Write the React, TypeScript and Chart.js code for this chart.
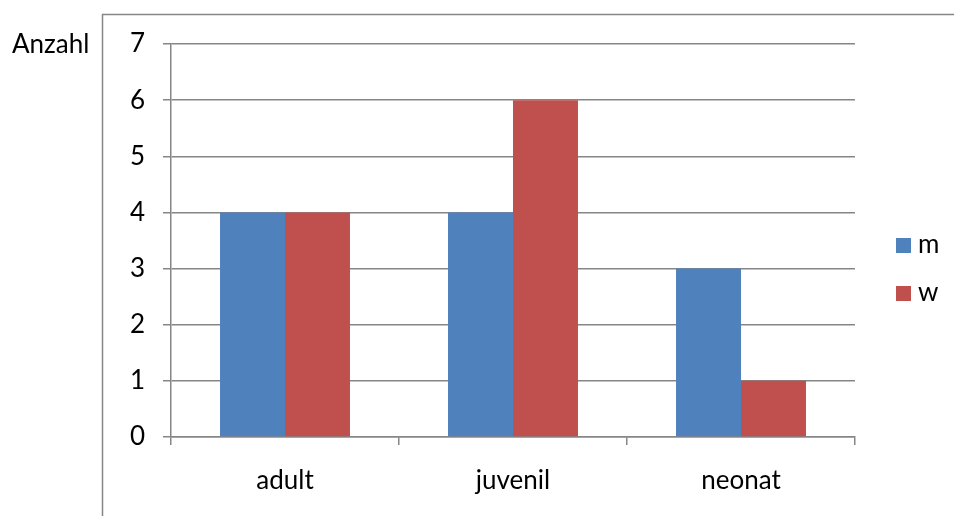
import React, { useEffect, useRef } from "react";
import { Chart, registerables } from "chart.js";

Chart.register(...registerables);

const categories = ["adult", "juvenil", "neonat"];
const seriesNames = ["m", "w"];
const valuesM = [4, 4, 3];
const valuesW = [4, 6, 1];
const yMin = 0;
const yMax = 7;
const yStep = 1;
const yTitle = "Anzahl";

const COLORS = ["#4F81BD", "#C0504D"];
const GRID = "#868686";
const FONT = "Lato";
const FS = 26;

const decor = {
  id: "decor",
  beforeDraw(chart: any) {
    const ctx = chart.ctx;
    ctx.save();
    ctx.fillStyle = "#ffffff";
    ctx.fillRect(0, 0, chart.width, chart.height);
    ctx.strokeStyle = GRID;
    ctx.lineWidth = 1.5;
    ctx.beginPath();
    ctx.moveTo(102.5, chart.height + 5);
    ctx.lineTo(102.5, 14.5);
    ctx.lineTo(chart.width + 5, 14.5);
    ctx.stroke();
    ctx.restore();
  },
  afterDraw(chart: any) {
    const ctx = chart.ctx;
    ctx.save();
    ctx.font = `${FS}px ${FONT}`;
    ctx.fillStyle = "#000000";
    ctx.textBaseline = "alphabetic";
    ctx.textAlign = "left";
    ctx.fillText(yTitle, 12, 53);
    const items = chart.data.datasets;
    const baselines = [253, 301];
    items.forEach((ds: any, i: number) => {
      ctx.fillStyle = ds.backgroundColor;
      ctx.fillRect(896, baselines[i] - 15, 15, 15);
      ctx.fillStyle = "#000000";
      ctx.fillText(ds.label, 918, baselines[i]);
    });
    ctx.restore();
  },
};

export default function App() {
  const ref = useRef<HTMLCanvasElement | null>(null);
  useEffect(() => {
    if (!ref.current) return;
    const chart = new Chart(ref.current, {
      type: "bar",
      data: {
        labels: categories,
        datasets: [
          { label: seriesNames[0], data: valuesM, backgroundColor: COLORS[0], borderWidth: 0 },
          { label: seriesNames[1], data: valuesW, backgroundColor: COLORS[1], borderWidth: 0 },
        ],
      },
      options: {
        animation: false,
        responsive: false,
        maintainAspectRatio: false,
        devicePixelRatio: 1,
        layout: { padding: { left: 0, top: 44, right: 99, bottom: 0 } },
        plugins: { legend: { display: false }, tooltip: { enabled: false }, title: { display: false } },
        datasets: { bar: { categoryPercentage: 0.57, barPercentage: 1.0 } },
        scales: {
          x: {
            offset: true,
            grid: { offset: true, drawOnChartArea: false, drawTicks: true, tickLength: 8, color: GRID, lineWidth: 1.5 },
            border: { color: GRID, width: 1.5 },
            ticks: { color: "#000", font: { family: FONT, size: FS }, padding: 20 },
            afterFit(scale: any) { scale.height = 79; },
          },
          y: {
            min: yMin,
            max: yMax,
            ticks: { stepSize: yStep, color: "#000", font: { family: FONT, size: FS }, padding: 18 },
            grid: { color: GRID, lineWidth: 1.5, tickLength: 8, drawTicks: true },
            border: { color: GRID, width: 1.5 },
            afterFit(scale: any) { scale.width = 171; },
          },
        },
      },
      plugins: [decor],
    });
    return () => chart.destroy();
  }, []);
  return (
    <div style={{ position: "fixed", left: 0, top: 0, width: 954, height: 516 }}>
      <canvas ref={ref} width={954} height={516} style={{ display: "block", width: 954, height: 516 }} />
    </div>
  );
}
